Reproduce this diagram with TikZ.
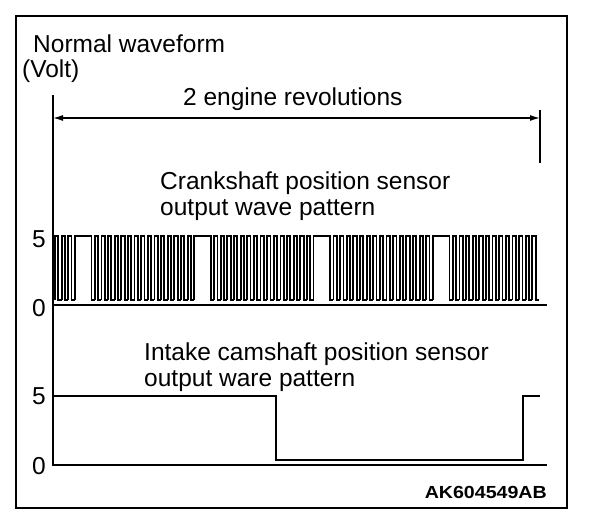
\documentclass[tikz,border=0pt]{standalone}
\usepackage{fontspec}
\setmainfont{Liberation Sans}
\usetikzlibrary{arrows.meta}

\tikzstyle{axis} = [line width=1.8pt]
\tikzstyle{wave} = [line width=1.8pt, line join=miter]
\tikzstyle{label} = [inner sep=0pt, anchor=base west, font=\fontsize{24.5}{25.5}\selectfont, align=left]
\tikzstyle{volts} = [inner sep=0pt, anchor=base west, font=\fontsize{24.5}{25.5}\selectfont]
\tikzset{
  tooth/.pic={\draw[wave] (0,0) -- (0,-64) -- (3.315,-64) -- (3.315,0) -- (6.63,0);},
  gaptooth/.pic={\draw[wave] (0,0) -- (0,-64) -- (16.575,-64) -- (16.575,0) -- (19.89,0);}
}

\begin{document}
\begin{tikzpicture}[x=1pt,y=-1pt]
      \useasboundingbox (0,0) rectangle (608,524);
      \draw[line width=1.3pt] (16,16) rectangle (567,508);
      % texts
      \node[label] (title) at (33,53) {Normal waveform};
      \node[label] (unit) at (22,78) {(Volt)};
      \node[label] (revs) at (183,106) {2 engine revolutions};
      \node[label] (cranklbl) at (160,215) {Crankshaft position sensor\\output wave pattern};
      \node[label] (camlbl) at (144,386) {Intake camshaft position sensor\\output ware pattern};
      \node[volts] (fivea) at (32,247) {5};
      \node[volts] (zeroa) at (32,316) {0};
      \node[volts] (fiveb) at (32,404) {5};
      \node[volts] (zerob) at (32,474) {0};
      \node[inner sep=0pt, anchor=base east, xscale=1.12, font=\bfseries\fontsize{17.5}{17.5}\selectfont] (code) at (547,498) {AK604549AB};
      % axes
      \coordinate (axtop) at (53,95);
      \coordinate (axbot) at (53,465);
      \coordinate (crankend) at (547,305);
      \coordinate (camend) at (547,465);
      \coordinate (ticktop) at (540,110);
      \coordinate (tickbot) at (540,163);
      \draw[axis] (axtop) -- (axbot) -- (camend);
      \draw[axis] (53,305) -- (crankend);
      \draw[line width=1.4pt] (ticktop) -- (tickbot);
      \coordinate (revl) at (53,118);
      \coordinate (revr) at (540,118);
      \draw[line width=1.4pt, {Latex[length=10pt,width=6pt]}-{Latex[length=10pt,width=6pt]}] (revl) -- (revr);
      % crankshaft signal
      \foreach \j in {0,1,2}
        \pic at ({55+\j*6.63},300) {tooth};
      \foreach \k/\n in {0/15,1/15,2/15,3/13} {
        \pic at ({55+(3+18*\k)*6.63},300) {gaptooth};
        \foreach \j in {1,...,\n}
          \pic at ({55+(5+18*\k+\j)*6.63},300) {tooth};
      }
      % camshaft signal
      \draw[axis] (53,396) -- (276,396) -- (276,460) -- (523,460) -- (523,396) -- (540,396);
    \end{tikzpicture}
\end{document}
